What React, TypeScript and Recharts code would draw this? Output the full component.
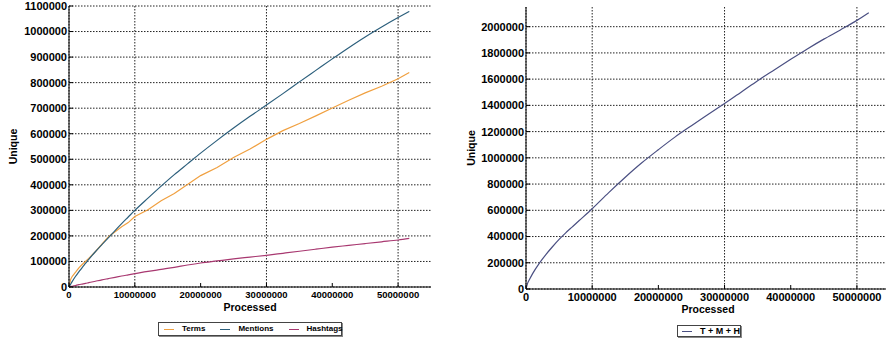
import React from "react";
import { LineChart, Line, XAxis, YAxis, CartesianGrid } from "recharts";

// left panel: unique counts per type vs. processed items
const processed = [
  0, 250000, 500000, 1000000, 1500000, 2000000, 2500000, 3000000, 4000000, 5000000,
  6000000, 7000000, 8000000, 9000000, 10000000, 12000000, 14000000, 16000000, 18000000,
  20000000, 22500000, 25000000, 27500000, 30000000, 32500000, 35000000, 37500000,
  40000000, 42500000, 45000000, 47500000, 50000000, 51700000,
];
const terms = [
  0, 30000, 42000, 58000, 75000, 88000, 100000, 112000, 138000, 168000,
  197000, 216000, 236000, 252000, 276000, 302000, 338000, 366000, 401000,
  436000, 468000, 507000, 540000, 578000, 612000, 640000, 670000,
  701000, 731000, 760000, 786000, 815000, 840000,
];
const mentions = [
  0, 11000, 22000, 42000, 59000, 76000, 92000, 108000, 138000, 166000,
  193000, 221000, 248000, 274000, 300000, 348000, 395000, 440000, 482000,
  524000, 574000, 622000, 668000, 712000, 757000, 803000, 848000,
  893000, 937000, 979000, 1018000, 1055000, 1079000,
];
const hashtags = [
  0, 1500, 3000, 6000, 9000, 11500, 14000, 17000, 22500, 28000,
  33000, 38000, 43000, 47500, 52000, 61000, 69000, 77000, 86000,
  94000, 102000, 110000, 117000, 124000, 132000, 140000, 148000,
  156000, 163000, 170000, 177000, 184000, 190000,
];

// right panel: T + M + H
const processedTotal = [
  0, 250000, 500000, 1000000, 2000000, 3000000, 4000000, 5000000, 6000000, 7000000,
  8000000, 10000000, 12500000, 15000000, 17500000, 20000000, 22500000, 25000000,
  27500000, 30000000, 32500000, 35000000, 37500000, 40000000, 42500000, 45000000,
  47500000, 50000000, 51800000,
];
const totalTMH = [
  0, 45000, 70000, 117000, 195000, 262000, 322000, 378000, 428000, 474000,
  520000, 612000, 735000, 852000, 962000, 1062000, 1158000, 1245000,
  1330000, 1415000, 1500000, 1588000, 1670000, 1751000, 1830000, 1905000,
  1975000, 2048000, 2107000,
];

const xTicks = [0, 10000000, 20000000, 30000000, 40000000, 50000000];
const xMinor = [
  2500000, 5000000, 7500000, 12500000, 15000000, 17500000, 22500000, 25000000, 27500000,
  32500000, 35000000, 37500000, 42500000, 45000000, 47500000, 52500000,
];
const yTicksLeft = [0, 100000, 200000, 300000, 400000, 500000, 600000, 700000, 800000, 900000, 1000000, 1100000];
const yMinorLeft = [50000, 150000, 250000, 350000, 450000, 550000, 650000, 750000, 850000, 950000, 1050000];
const yTicksRight = [0, 200000, 400000, 600000, 800000, 1000000, 1200000, 1400000, 1600000, 1800000, 2000000];
const yMinorRight = [100000, 300000, 500000, 700000, 900000, 1100000, 1300000, 1500000, 1700000, 1900000, 2100000];

const leftData = processed.map((p, i) => ({ p, terms: terms[i], mentions: mentions[i], hashtags: hashtags[i] }));
const rightData = processedTotal.map((p, i) => ({ p, total: totalTMH[i] }));

const FONT = "'Liberation Sans', Arial, sans-serif";
const tickStyle = (size: number) => ({ fontSize: size, fontWeight: 700, fill: "#000", fontFamily: FONT });
const titleStyle = { fontSize: 10.5, fontWeight: 700, fill: "#000", fontFamily: FONT };

function Frame({ xDomain, yDomain, yTicks, yMinor, xFont, yFont, yWidth, labelOffset }: any) {
  // minor axes first so they sit on the plot edge
  return [
    <XAxis key="xm" xAxisId="xm" type="number" dataKey="p" domain={xDomain} ticks={xMinor} allowDataOverflow height={0} axisLine={false} tick={false} tickLine={{ stroke: "#000" }} tickSize={-2} />,
    <XAxis key="xtm" xAxisId="xtm" orientation="top" type="number" dataKey="p" domain={xDomain} ticks={xMinor} allowDataOverflow height={0} axisLine={false} tick={false} tickLine={{ stroke: "#000" }} tickSize={-2} />,
    <YAxis key="ym" yAxisId="ym" type="number" domain={yDomain} ticks={yMinor} allowDataOverflow width={0} axisLine={false} tick={false} tickLine={{ stroke: "#000" }} tickSize={-2} />,
    <YAxis key="yrm" yAxisId="yrm" orientation="right" type="number" domain={yDomain} ticks={yMinor} allowDataOverflow width={0} axisLine={false} tick={false} tickLine={{ stroke: "#000" }} tickSize={-2} />,
    <XAxis key="x" xAxisId={0} type="number" dataKey="p" domain={xDomain} ticks={xTicks} allowDataOverflow height={30}
      axisLine={{ stroke: "#000" }} tickLine={{ stroke: "#000" }} tickSize={-4} tickMargin={8} tick={tickStyle(xFont)}
      label={{ value: "Processed", position: "insideBottom", offset: 6, style: titleStyle }} />,
    <XAxis key="xt" xAxisId="xt" orientation="top" type="number" dataKey="p" domain={xDomain} ticks={xTicks} allowDataOverflow height={0}
      axisLine={{ stroke: "#000" }} tickLine={{ stroke: "#000" }} tickSize={-4} tick={false} />,
    <YAxis key="y" yAxisId={0} type="number" domain={yDomain} ticks={yTicks} allowDataOverflow width={yWidth} interval={0}
      axisLine={{ stroke: "#000" }} tickLine={{ stroke: "#000" }} tickSize={-4} tickMargin={6} tick={tickStyle(yFont)}
      label={{ value: "Unique", angle: -90, position: "insideLeft", offset: labelOffset, style: { ...titleStyle, textAnchor: "middle" } }} />,
    <YAxis key="yr" yAxisId="yr" orientation="right" type="number" domain={yDomain} ticks={yTicks} allowDataOverflow width={0}
      axisLine={{ stroke: "#000" }} tickLine={{ stroke: "#000" }} tickSize={-4} tick={false} />,
  ];
}

const legendBox: React.CSSProperties = {
  position: "absolute",
  border: "1px solid #444",
  boxShadow: "1px 1px 0 #888",
  background: "#fff",
  display: "flex",
  alignItems: "center",
  fontFamily: FONT,
  fontWeight: 700,
  fontSize: 8,
  lineHeight: "10px",
  color: "#000",
  boxSizing: "border-box",
};

function LegendItem({ color, label, gap }: { color: string; label: string; gap: number }) {
  return (
    <span style={{ display: "flex", alignItems: "center", marginRight: gap }}>
      <span style={{ display: "block", width: 10, height: 0, borderTop: `1px solid ${color}`, marginRight: 8 }} />
      {label}
    </span>
  );
}

export default function App() {
  const COLORS = { terms: "#f0a040", mentions: "#2c5f7c", hashtags: "#a83870", total: "#4a4f82" };
  return (
    <div style={{ position: "relative", width: 886, height: 343, overflow: "hidden", background: "#fff" }}>
      <style>{"html,body{margin:0;padding:0;overflow:hidden;}"}</style>
      <div style={{ position: "absolute", left: 0, top: 0 }}>
        <LineChart width={440} height={343} data={leftData} margin={{ top: 6, right: 9, left: 0, bottom: 26 }}>
          <CartesianGrid stroke="#222" strokeDasharray="1.5 1.5" horizontalValues={yTicksLeft} verticalValues={xTicks} />
          {Frame({ xDomain: [0, 55000000], yDomain: [0, 1100000], yTicks: yTicksLeft, yMinor: yMinorLeft, xFont: 9.5, yFont: 11, yWidth: 69, labelOffset: 13 })}
          <Line dataKey="terms" name="Terms" stroke={COLORS.terms} strokeWidth={1.2} dot={false} isAnimationActive={false} />
          <Line type="monotone" dataKey="mentions" name="Mentions" stroke={COLORS.mentions} strokeWidth={1.2} dot={false} isAnimationActive={false} />
          <Line type="monotone" dataKey="hashtags" name="Hashtags" stroke={COLORS.hashtags} strokeWidth={1.2} dot={false} isAnimationActive={false} />
        </LineChart>
        <div style={{ ...legendBox, left: 158, top: 322, width: 184, height: 14, paddingLeft: 5 }}>
          <LegendItem color={COLORS.terms} label="Terms" gap={15} />
          <LegendItem color={COLORS.mentions} label="Mentions" gap={15} />
          <LegendItem color={COLORS.hashtags} label="Hashtags" gap={0} />
        </div>
      </div>
      <div style={{ position: "absolute", left: 446, top: 0, width: 440, height: 343, overflow: "hidden" }}>
        <LineChart width={450} height={343} data={rightData} margin={{ top: 7, right: 6, left: 0, bottom: 24 }}>
          <CartesianGrid stroke="#222" strokeDasharray="1.5 1.5" horizontalValues={yTicksRight} verticalValues={xTicks} />
          {Frame({ xDomain: [0, 55000000], yDomain: [0, 2150000], yTicks: yTicksRight, yMinor: yMinorRight, xFont: 11, yFont: 11, yWidth: 80, labelOffset: 25 })}
          <Line type="monotone" dataKey="total" name="T + M + H" stroke={COLORS.total} strokeWidth={1.2} dot={false} isAnimationActive={false} />
        </LineChart>
        <div style={{ ...legendBox, left: 231, top: 325, width: 64, height: 12, paddingLeft: 4, fontSize: 9 }}>
          <LegendItem color={COLORS.total} label="T + M + H" gap={0} />
        </div>
      </div>
    </div>
  );
}
